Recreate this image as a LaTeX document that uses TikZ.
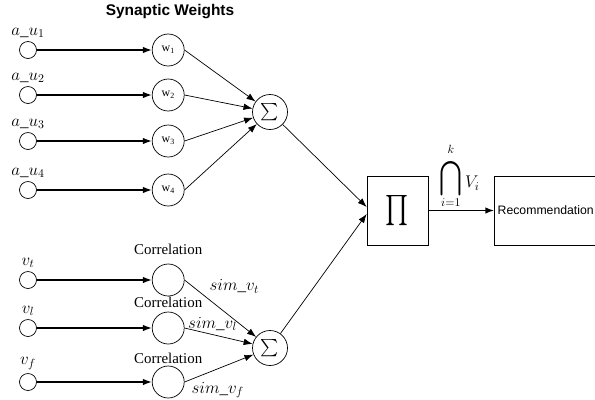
\RequirePackage{fix-cm}
\documentclass[tikz,border=0pt]{standalone}
\usepackage{amsmath}
\usepackage{fontspec}
\setmainfont{Liberation Serif}
\setsansfont{Liberation Sans}
\usetikzlibrary{arrows.meta,positioning}

\begin{document}
\begin{tikzpicture}[auto,>={Latex[length=9bp,width=6.5bp]},x=1bp,y=-1bp,font=\fontsize{15}{18}\selectfont]
	\tikzstyle{innode} = [draw, circle, minimum size=17bp, inner sep=0pt, line width=0.7bp]
	\tikzstyle{neuron} = [draw, circle, minimum size=32bp, inner sep=0pt, line width=0.7bp]
	\tikzstyle{adder} = [draw, circle, minimum size=35bp, inner sep=0pt, line width=0.7bp, font=\fontsize{17}{20}\selectfont]
	\tikzstyle{block} = [draw, rectangle, minimum height=69bp, minimum width=61bp, line width=0.7bp]
	\tikzstyle{feed} = [->, line width=1.3bp]
	\tikzstyle{link} = [->, line width=0.7bp]
	\tikzstyle{wfont} = [font=\fontsize{12}{14}\selectfont]
	\tikzstyle{mfont} = [font=\fontsize{17}{20}\selectfont]

	\useasboundingbox (0,0) rectangle (595,399);

	\node [font=\sffamily\bfseries\fontsize{15.5}{18}\selectfont] (title) at (170,12) {Synaptic Weights};

	% user attributes
	\node [innode, label={[mfont]above:$a\_u_1$}] (a1) at (28,50) {};
	\node [innode, label={[mfont]above:$a\_u_2$}] (a2) at (28,95) {};
	\node [innode, label={[mfont]above:$a\_u_3$}] (a3) at (28,141) {};
	\node [innode, label={[mfont]above:$a\_u_4$}] (a4) at (28,190) {};

	\node [neuron, wfont, right = 115bp of a1] (w1) {w\textsubscript{1}};
	\node [neuron, wfont, right = 115bp of a2] (w2) {w\textsubscript{2}};
	\node [neuron, wfont, right = 115bp of a3] (w3) {w\textsubscript{3}};
	\node [neuron, wfont, right = 115bp of a4] (w4) {w\textsubscript{4}};

	\node [adder] (sumw) at (270,112) {$\sum$};

	% item features
	\node [innode, label={[mfont]above:$v_t$}] (vt) at (28,280) {};
	\node [innode, label={[mfont]above:$v_l$}] (vl) at (28,328) {};
	\node [innode, label={[mfont]above:$v_f$}] (vf) at (28,382) {};

	\node [neuron, right = 115bp of vt, label={[label distance=5bp]above:Correlation}] (ct) {};
	\node [neuron, right = 115bp of vl, label={[label distance=0bp]above:Correlation}] (cl) {};
	\node [neuron, right = 115bp of vf, label={[label distance=-2bp]above:Correlation}] (cf) {};

	\node [adder] (sumv) at (270,348) {$\sum$};

	\node [block] (prod) at (397.5,210.5) {\scalebox{1.7}[2.1]{$\prod$}};
	\node [block, right = 66bp of prod, text width=104bp, align=left, inner sep=3bp,
		font=\sffamily\fontsize{12.3}{14}\selectfont] (rec) {Recommendation};

	\draw [feed] (a1) -- (w1);
	\draw [feed] (a2) -- (w2);
	\draw [feed] (a3) -- (w3);
	\draw [feed] (a4) -- (w4);
	\draw [link] (w1.east) -- (sumw);
	\draw [link] (w2.east) -- (sumw);
	\draw [link] (w3.east) -- (sumw);
	\draw [link] (w4.east) -- (sumw);

	\draw [feed] (vt) -- (ct);
	\draw [feed] (vl) -- (cl);
	\draw [feed] (vf) -- (cf);
	\draw [link] (ct.east) -- node[mfont, pos=0.3, above right]{$sim\_v_t$} (sumv);
	\draw [link] (cl.east) -- node[mfont, pos=0.0, anchor=west, yshift=4bp]{$sim\_v_l$} (sumv);
	\draw [link] (cf.east) -- node[mfont, pos=0.05, below right, yshift=2bp]{$sim\_v_f$} (sumv);

	\draw [link] (sumw) -- ([yshift=3.5bp]prod.west);
	\draw [link] (sumv) -- ([yshift=-3.5bp]prod.west);
	\draw [feed, line width=1.6bp] (prod) -- node[above, mfont, inner sep=1bp, xshift=-2bp]{$\mathop{\scalebox{1.6}[2]{$\bigcap$}}\limits_{i=1}^{\raisebox{5bp}{$\scriptstyle k$}} V_i$} (rec);

\end{tikzpicture}
\end{document}
